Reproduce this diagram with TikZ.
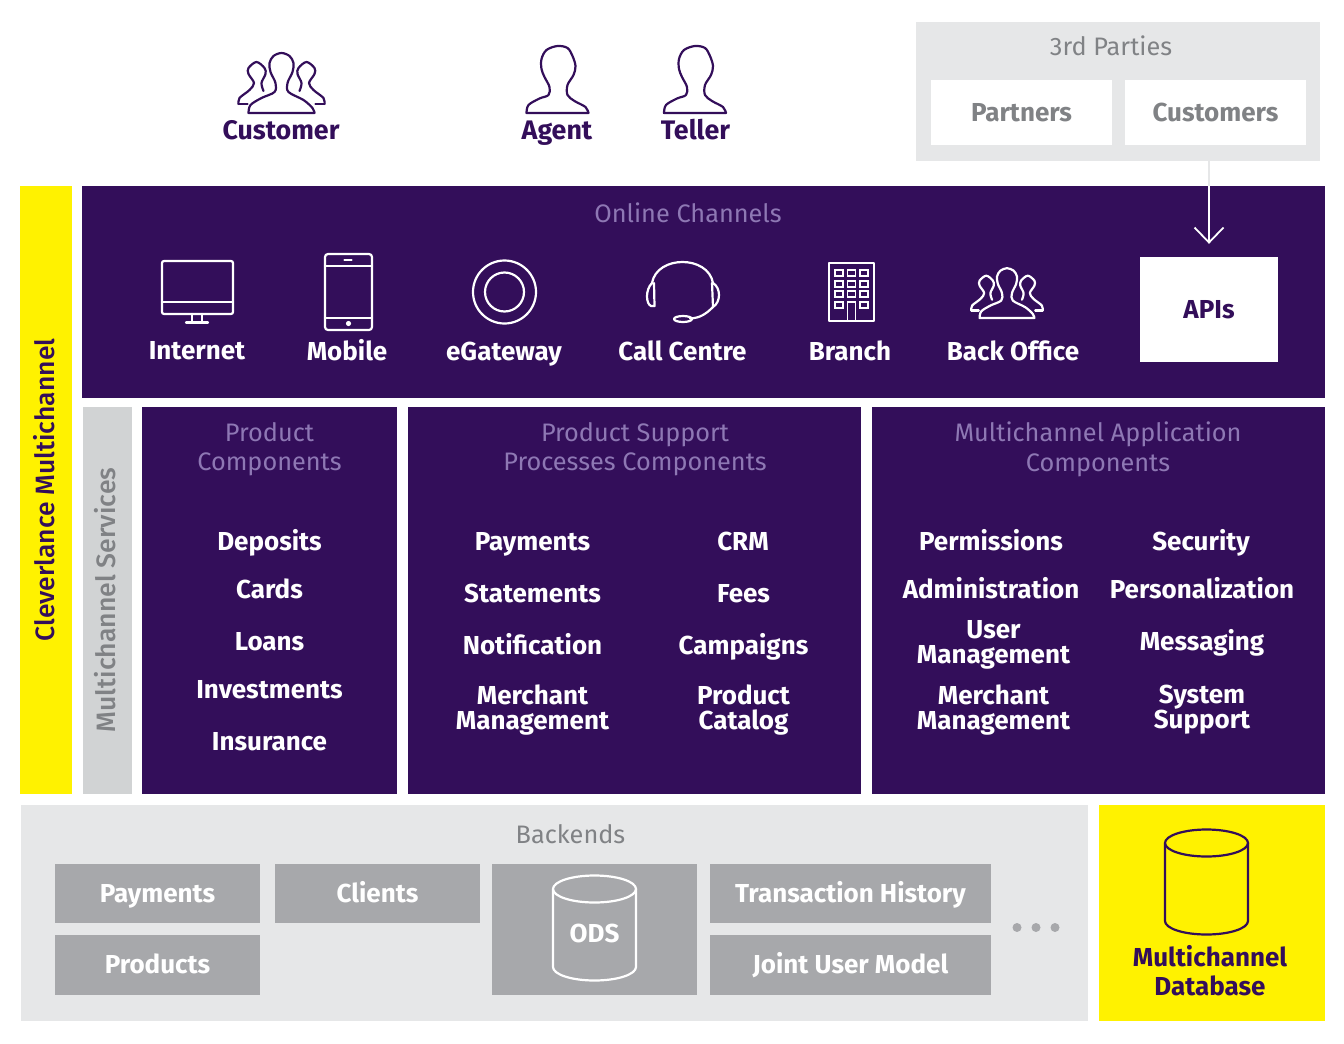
\documentclass[tikz,border=0pt]{standalone}
\usepackage{fontspec}
\setmainfont{Fira Sans}
\newfontfamily\firamed{Fira Sans Medium}
\usetikzlibrary{arrows.meta}
\definecolor{ink}{HTML}{330E5A}
\definecolor{lilac}{HTML}{8E78B4}
\definecolor{yel}{HTML}{FFF200}
\definecolor{pale}{HTML}{E6E7E8}
\definecolor{midg}{HTML}{D1D3D4}
\definecolor{dark}{HTML}{A7A8AB}
\definecolor{txtg}{HTML}{808285}
\newcommand{\topstr}{\rule{0pt}{24.5pt}}
\newcommand{\botstr}{\rule[-10.5pt]{0pt}{10.5pt}}
\tikzset{
 panel/.style={draw=none,fill=#1,inner sep=0pt},
 txtbase/.style={align=center,inner sep=0pt,execute at begin node=\topstr,execute at end node=\botstr},
 lbl/.style={txtbase,font=\fontsize{26}{25}\selectfont\bfseries,text=white},
 lbltop/.style={lbl,font=\fontsize{26.8}{25}\selectfont\bfseries,text=ink},
 lbldark/.style={lbl,text=ink},
 lblgrey/.style={lbl,text=txtg},
 head/.style={txtbase,font=\fontsize{25.3}{29.5}\selectfont,text=lilac},
 headg/.style={head,text=txtg},
 icon/.style={line width=2.2pt,line join=round,line cap=round},
 pics/person/.style={code={
  \draw[pic actions] plot[smooth,tension=.55] coordinates {(-31,0)(-29,-8)(-18,-14.5)(-9,-18)(-8,-26)(-13,-36)(-16,-44)(-16,-54)(-11,-63)(0,-67)(10,-65)(15,-57)(18,-47)(16,-38)(10,-28)(10,-18)(17,-12)(28,-6)(31,0)} -- cycle;
 }},
 pics/group/.style={code={
  \draw[pic actions] plot[smooth,tension=.55] coordinates {(-33,0)(-31,-8)(-20,-15)(-7,-21)(-6,-30)(-11,-41)(-12,-50)(-8,-57)(0,-60)(8,-57)(12,-50)(11,-41)(6,-30)(7,-21)(22,-13)(31,-5)(33,0)} -- cycle;
  \draw[pic actions] plot[smooth,tension=.55] coordinates {(-43,-9)(-42,-15)(-32,-23)(-27.5,-30)(-33,-39)(-33,-45)(-25,-51)(-17,-45)(-16,-39)(-20,-30)(-18,-22)};
  \draw[pic actions] (-43,-9) -- (-34,-9);
  \draw[pic actions] plot[smooth,tension=.55] coordinates {(43,-9)(42,-15)(32,-23)(27.5,-30)(33,-39)(33,-45)(25,-51)(17,-45)(16,-39)(20,-30)(18,-22)};
  \draw[pic actions] (43,-9) -- (34,-9);
 }},
 pics/can/.style={code={
  \draw[pic actions] (-41.5,0) arc[start angle=180,end angle=-180,x radius=41.5,y radius=13.5];
  \draw[pic actions] (-41.5,0) -- (-41.5,#1) arc[start angle=180,end angle=0,x radius=41.5,y radius=13.5] -- (41.5,0);
 }},
}
\begin{document}
\begin{tikzpicture}[x=1pt,y=-1pt]
\useasboundingbox (0,0) rectangle (1344,1044);
% panels
\node[panel=pale,minimum width=404pt,minimum height=139pt] (third) at (1118,91.5) {};
\node[panel=white,minimum width=181pt,minimum height=65pt] (partners) at (1021.5,112.5) {};
\node[panel=white,minimum width=181pt,minimum height=65pt] (customers) at (1215.5,112.5) {};
\node[panel=yel,minimum width=52pt,minimum height=608pt] (cm) at (46,490) {};
\node[panel=ink,minimum width=1243pt,minimum height=212pt] (online) at (703.5,292) {};
\node[panel=white,minimum width=138pt,minimum height=105pt] (apis) at (1209,309.5) {};
\node[panel=midg,minimum width=49pt,minimum height=387pt] (ms) at (107.5,600.5) {};
\node[panel=ink,minimum width=255pt,minimum height=387pt] (pc) at (269.5,600.5) {};
\node[panel=ink,minimum width=453pt,minimum height=387pt] (ps) at (634.5,600.5) {};
\node[panel=ink,minimum width=453pt,minimum height=387pt] (ma) at (1098.5,600.5) {};
\node[panel=pale,minimum width=1067pt,minimum height=216pt] (be) at (554.5,913) {};
\node[panel=yel,minimum width=226pt,minimum height=216pt] (db) at (1212,913) {};
\node[panel=dark,minimum width=205pt,minimum height=59pt] (bpay) at (157.5,893.5) {};
\node[panel=dark,minimum width=205pt,minimum height=59pt] (bcli) at (377.5,893.5) {};
\node[panel=dark,minimum width=205pt,minimum height=60pt] (bpro) at (157.5,965) {};
\node[panel=dark,minimum width=205pt,minimum height=131pt] (bods) at (594.5,929.5) {};
\node[panel=dark,minimum width=281pt,minimum height=59pt] (btra) at (850.5,893.5) {};
\node[panel=dark,minimum width=281pt,minimum height=60pt] (bjoi) at (850.5,965) {};
% top icons
\pic[icon,draw=ink] at (281.5,113) {group};
\pic[icon,draw=ink] at (557.5,113) {person};
\pic[icon,draw=ink] at (695,113) {person};
\node[lbltop] (tcust) at (281,132) {Customer};
\node[lbltop] (tagent) at (557,132) {Agent};
\node[lbltop] (tteller) at (695.5,132) {Teller};
\node[headg] (t3rd) at (1111,48) {3rd Parties};
\node[lblgrey] (tpart) at (1021.5,114) {Partners};
\node[lblgrey] (tcus) at (1215.5,114) {Customers};
% arrow
\coordinate (arrowtop) at (third.south -| apis.north);
\draw[line width=2pt,draw=pale] (arrowtop) -- (arrowtop |- online.north);
\draw[line width=1.8pt,draw=white,-{Straight Barb[length=15pt,width=29pt]},shorten >=13pt] (arrowtop |- online.north) -- (apis.north);
% channel row
\node[head] (tonl) at (688,215) {Online Channels};
% internet
\draw[icon,white,rounded corners=2pt] (162,261) rectangle (233,314);
\draw[icon,white] (162,302) -- (233,302) (192,314) -- (192,322) (202,314) -- (202,322) (186,322.5) -- (208,322.5);
% mobile
\draw[icon,white,rounded corners=3pt] (325,254) rectangle (372,330);
\draw[icon,white] (325,266) -- (372,266) (325,318) -- (372,318) (344.5,260) -- (351.5,260);
\fill[white] (348.5,323.5) circle (2.6pt);
% egateway
\draw[icon,white] (504.5,292) circle (31.5pt) (504.5,292) circle (19.5pt);
% headset
\draw[icon,white] (652,283) .. controls (657,255) and (708,255) .. (713,283);
\draw[icon,white] (652,283) .. controls (645,290) and (646,304) .. (651,306) -- (654.5,306) -- (654,283);
\draw[icon,white] (713,283) .. controls (721,288) and (721,302) .. (713,307) -- (712,283);
\draw[icon,white] (713,307) .. controls (706,314) and (700,318) .. (690,318.5);
\draw[icon,white] (683,319) ellipse (9pt and 3pt);
% building
\draw[line width=1.8pt,white,line join=round] (829,263) rectangle (874,321);
\foreach \yy in {270,281,291,302}{
 \draw[line width=1.6pt,white] (835,\yy) rectangle +(8,6) (860,\yy) rectangle +(8,6);}
\foreach \yy in {270,281,291}{\draw[line width=1.6pt,white] (847.5,\yy) rectangle +(8,6);}
\draw[line width=1.6pt,white] (847.5,321) -- (847.5,302) -- (855.5,302) -- (855.5,321);
% back office
\pic[icon,draw=white,scale=.83] at (1007,318) {group};
\node[lbl] (tint) at (197,352) {Internet};
\node[lbl] (tmob) at (347,353) {Mobile};
\node[lbl] (tega) at (504,353) {eGateway};
\node[lbl] (tcal) at (682.5,353) {Call Centre};
\node[lbl] (tbra) at (850,353) {Branch};
\node[lbl] (tbac) at (1013,353) {Back Office};
\node[lbldark] (tapi) at (1209,311) {APIs};
% side
\node[lbl,text=ink,font=\fontsize{26.5}{25}\selectfont\firamed,rotate=90] (tcm) at (47,490) {Cleverlance Multichannel};
\node[lbl,text=txtg,font=\fontsize{26.6}{25}\selectfont\firamed,rotate=90] (tms) at (108,600) {Multichannel Services};
% components
\node[head] (hpc) at (269.5,452) {Product\\Components};
\node[head] (hps) at (635,452) {Product Support\\Processes Components};
\node[head] (hma) at (1098,452) {Multichannel Application\\Components};
\node[lbl] (a1) at (269.5,543) {Deposits};
\node[lbl] (a2) at (269.5,591) {Cards};
\node[lbl] (a3) at (269.5,643) {Loans};
\node[lbl] (a4) at (269.5,691) {Investments};
\node[lbl] (a5) at (269.5,743) {Insurance};
\node[lbl] (b1) at (532.5,543) {Payments};
\node[lbl] (b2) at (532.5,595) {Statements};
\node[lbl] (b3) at (532.5,647) {Notification};
\node[lbl] (b4) at (532.5,712.5) {Merchant\\Management};
\node[lbl] (c1) at (743,543) {CRM};
\node[lbl] (c2) at (743.5,595) {Fees};
\node[lbl] (c3) at (743.5,647) {Campaigns};
\node[lbl] (c4) at (743.5,712.5) {Product\\Catalog};
\node[lbl] (d1) at (991,543) {Permissions};
\node[lbl] (d2) at (991,591) {Administration};
\node[lbl] (d3) at (993.5,647.5) {User\\Management};
\node[lbl] (d4) at (993.5,712.5) {Merchant\\Management};
\node[lbl] (e1) at (1201,543) {Security};
\node[lbl] (e2) at (1202,591) {Personalization};
\node[lbl] (e3) at (1202,643) {Messaging};
\node[lbl] (e4) at (1202,712.5) {System\\Support};
% backends
\node[headg] (hbe) at (570.5,836) {Backends};
\node[lbl] (tbpay) at (157.5,895) {Payments};
\node[lbl] (tbcli) at (377.5,895) {Clients};
\node[lbl] (tbpro) at (157.5,966) {Products};
\node[lbl] (tbtra) at (850.5,895) {Transaction History};
\node[lbl] (tbjoi) at (850.5,966) {Joint User Model};
\pic[icon,draw=white] at (594.5,889) {can=78};
\node[lbl] (tods) at (594.5,935.5) {ODS};
\pic[icon,draw=ink] at (1206.5,843) {can=78};
\node[lbldark,font=\fontsize{26}{29}\selectfont\bfseries] (tdb) at (1210,976) {Multichannel\\Database};
\foreach \xx in {1017,1036,1055}{\fill[dark] (\xx,927.5) circle (4.5pt);}
\end{tikzpicture}
\end{document}
